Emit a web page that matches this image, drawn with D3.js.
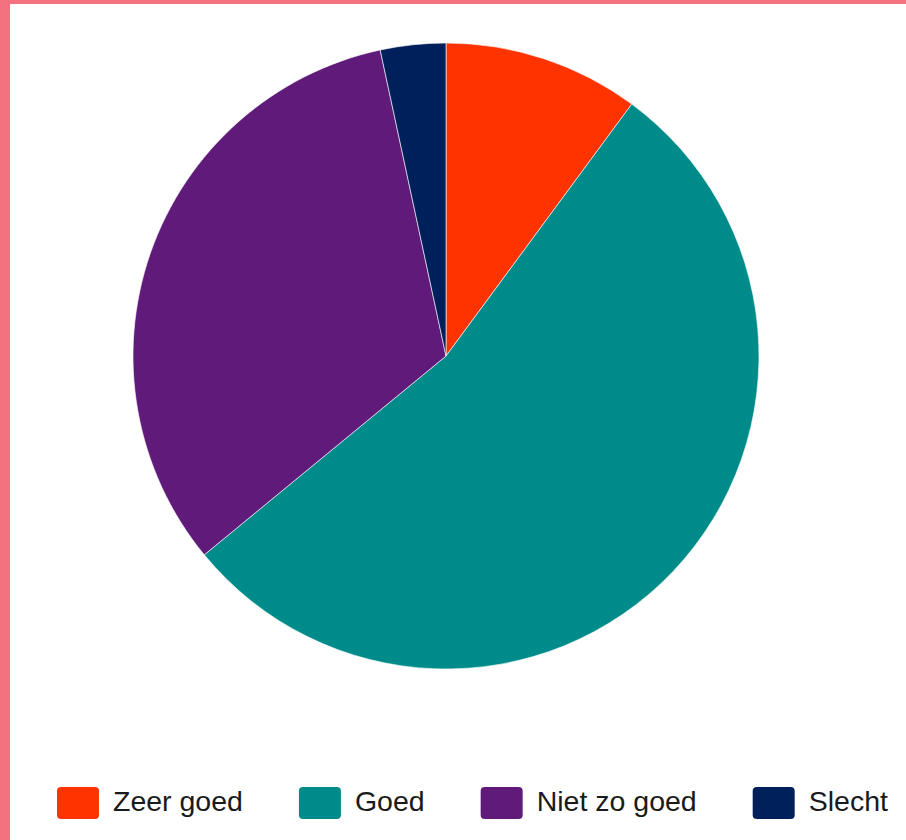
<!DOCTYPE html>
<html>
<head>
<meta charset="utf-8">
<script src="https://cdn.jsdelivr.net/npm/d3@7"></script>
<style>
  html, body { margin: 0; padding: 0; background: #fff; }
  svg { display: block; }
</style>
</head>
<body>
<svg id="chart" width="906" height="840"></svg>
<script>
const categories = ["Zeer goed", "Goed", "Niet zo goed", "Slecht"];
const values = [9, 48, 29, 3];
const colors = ["#FF3300", "#008B8B", "#5F1A7A", "#00205B"];

const svg = d3.select("#chart");
const W = 906, H = 840;

// frame
svg.append("rect").attr("x", 0).attr("y", 0).attr("width", W).attr("height", H).attr("fill", "#fff");
svg.append("rect").attr("x", 0).attr("y", 0).attr("width", W).attr("height", 4).attr("fill", "#F4717F");
svg.append("rect").attr("x", 0).attr("y", 0).attr("width", 10).attr("height", H).attr("fill", "#F4717F");

const data = categories.map((c, i) => ({ cat: c, value: values[i], color: colors[i] }));

const cx = 446, cy = 356, r = 313;
const pie = d3.pie().value(d => d.value).sort(null);
const arc = d3.arc().innerRadius(0).outerRadius(r);

const g = svg.append("g").attr("transform", `translate(${cx},${cy})`);
g.selectAll("path").data(pie(data)).join("path")
  .attr("d", arc)
  .attr("fill", d => d.data.color)
  .attr("stroke", "#fff")
  .attr("stroke-width", 1)
  .attr("stroke-opacity", 0.6);

// legend
const legend = svg.append("g");
let x = 57;
const swW = 42, swH = 32, yTop = 787;
data.forEach(d => {
  legend.append("rect").attr("x", x).attr("y", yTop).attr("width", swW).attr("height", swH)
    .attr("rx", 4).attr("fill", d.color);
  const t = legend.append("text").attr("x", x + swW + 14).attr("y", 811)
    .attr("font-family", "Liberation Sans, Arial, sans-serif").attr("font-size", 28.5)
    .attr("fill", "#1a1a1a").text(d.cat);
  const tw = t.node().getComputedTextLength();
  x = x + swW + 14 + tw + 56;
});
</script>
</body>
</html>
